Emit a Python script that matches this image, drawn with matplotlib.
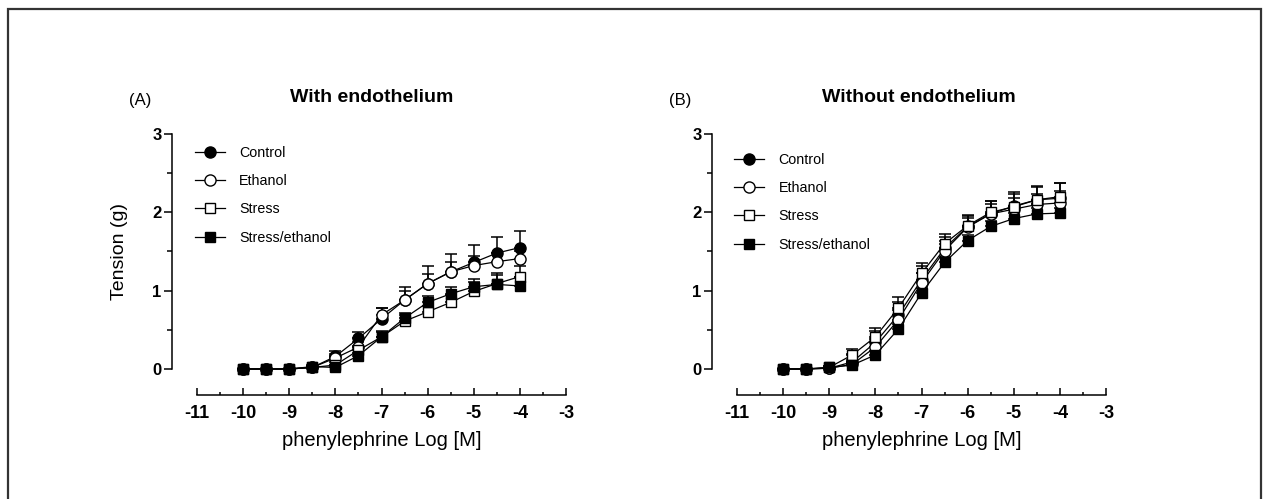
import matplotlib
matplotlib.use("Agg")
import matplotlib.pyplot as plt
from matplotlib.patches import Rectangle
from matplotlib.lines import Line2D
import numpy as np

# ---------------- data ----------------
log_conc = [-10, -9.5, -9, -8.5, -8, -7.5, -7, -6.5, -6, -5.5, -5, -4.5, -4]
groups = ["Control", "Ethanol", "Stress", "Stress/ethanol"]

# Panel A: with endothelium (mean, SEM)
a_control = [0, 0, 0, 0.02, 0.16, 0.39, 0.64, 0.88, 1.09, 1.24, 1.36, 1.48, 1.55]
a_control_sem = [0, 0, 0, 0.02, 0.07, 0.08, 0.14, 0.17, 0.22, 0.23, 0.22, 0.21, 0.21]
a_ethanol = [0, 0, 0, 0.02, 0.14, 0.28, 0.69, 0.88, 1.09, 1.24, 1.32, 1.37, 1.41]
a_ethanol_sem = [0, 0, 0, 0.02, 0.05, 0.06, 0.09, 0.12, 0.12, 0.12, 0.12, 0.11, 0.1]
a_stress = [0, 0, 0, 0.02, 0.05, 0.24, 0.41, 0.61, 0.73, 0.85, 0.99, 1.09, 1.18]
a_stress_sem = [0, 0, 0, 0.02, 0.04, 0.05, 0.07, 0.08, 0.08, 0.09, 0.12, 0.14, 0.14]
a_strEth = [0, 0, 0, 0.03, 0.02, 0.17, 0.41, 0.65, 0.85, 0.96, 1.05, 1.08, 1.06]
a_strEth_sem = [0, 0, 0, 0.02, 0.03, 0.04, 0.06, 0.07, 0.08, 0.09, 0.1, 0.12, 0.12]

# Panel B: without endothelium (mean, SEM)
b_control = [0, 0, 0.01, 0.09, 0.34, 0.69, 1.14, 1.54, 1.82, 1.98, 2.08, 2.16, 2.18]
b_control_sem = [0, 0, 0.02, 0.1, 0.14, 0.17, 0.17, 0.14, 0.14, 0.16, 0.18, 0.18, 0.2]
b_ethanol = [0, 0, 0.01, 0.06, 0.28, 0.63, 1.10, 1.51, 1.81, 1.98, 2.04, 2.10, 2.12]
b_ethanol_sem = [0, 0, 0.02, 0.06, 0.1, 0.12, 0.13, 0.12, 0.12, 0.12, 0.14, 0.14, 0.15]
b_stress = [0, 0, 0.02, 0.18, 0.41, 0.78, 1.22, 1.60, 1.83, 2.00, 2.07, 2.16, 2.20]
b_stress_sem = [0, 0, 0.02, 0.08, 0.11, 0.14, 0.13, 0.12, 0.12, 0.14, 0.16, 0.16, 0.17]
b_strEth = [0, 0, 0.02, 0.05, 0.18, 0.51, 0.97, 1.36, 1.64, 1.82, 1.92, 1.98, 1.99]
b_strEth_sem = [0, 0, 0.02, 0.04, 0.05, 0.06, 0.07, 0.07, 0.07, 0.07, 0.07, 0.07, 0.07]

x_ticks = [-11, -10, -9, -8, -7, -6, -5, -4, -3]
y_ticks = [0, 1, 2, 3]

panel_titles = ["With endothelium", "Without endothelium"]
panel_letters = ["(A)", "(B)"]
x_label = "phenylephrine Log [M]"
y_label = "Tension (g)"

# ---------------- style ----------------
W, H = 1267, 499
fig = plt.figure(figsize=(W / 100, H / 100), dpi=100)

regular = ["Liberation Sans", "DejaVu Sans"]

styles = [
    dict(marker="o", mfc="black", ms=8.0),
    dict(marker="o", mfc="white", ms=8.0),
    dict(marker="s", mfc="white", ms=7.3),
    dict(marker="s", mfc="black", ms=7.3),
]

def px_axes(left, right, top, bottom):
    return fig.add_axes([left / W, (H - bottom) / H, (right - left) / W, (bottom - top) / H])

panels = [
    dict(ax=px_axes(172, 566, 134, 395),
         series=[(a_control, a_control_sem), (a_ethanol, a_ethanol_sem),
                 (a_stress, a_stress_sem), (a_strEth, a_strEth_sem)],
         leg_anchor=(0.058, 0.955), letter_x=140, title_x=372, ylabel=True),
    dict(ax=px_axes(712, 1106, 134, 395),
         series=[(b_control, b_control_sem), (b_ethanol, b_ethanol_sem),
                 (b_stress, b_stress_sem), (b_strEth, b_strEth_sem)],
         leg_anchor=(0.056, 0.928), letter_x=680, title_x=919, ylabel=False),
]

for i, p in enumerate(panels):
    ax = p["ax"]
    x0 = -11 - 25 / 46.1
    ax.set_xlim(x0, -3)
    ax.set_ylim(-26 / 78.3, 3)
    for k, (mean, sem) in enumerate(p["series"]):
        st = styles[k]
        lower = np.zeros(len(sem))
        ax.errorbar(log_conc, mean, yerr=[lower, sem], fmt="none", ecolor="black",
                    elinewidth=1.1, capsize=4.5, capthick=1.1, zorder=2)
        ax.plot(log_conc, mean, color="black", lw=0.9, marker=st["marker"],
                mfc=st["mfc"], mec="black", mew=1.0, ms=st["ms"], zorder=3 + k,
                label=groups[k])

    for s in ["top", "right"]:
        ax.spines[s].set_visible(False)
    ax.spines["left"].set_bounds(0, 3)
    ax.spines["bottom"].set_bounds(-11, -3)
    ax.spines["left"].set_linewidth(1.1)
    ax.spines["bottom"].set_linewidth(1.1)

    ax.set_yticks(y_ticks)
    ax.set_yticks([0.5, 1.5, 2.5], minor=True)
    ax.set_xticks(x_ticks)
    ax.set_xticks(np.arange(-10.5, -3, 1.0), minor=True)
    ax.set_xticklabels([str(v) for v in x_ticks])
    ax.set_yticklabels([str(v) for v in y_ticks])
    ax.tick_params(axis="y", which="major", direction="out", length=5.5, width=1.1, pad=2)
    ax.tick_params(axis="y", which="minor", direction="out", length=3.5, width=1.1)
    ax.tick_params(axis="x", which="major", direction="in", length=5, width=1.1, pad=7)
    ax.tick_params(axis="x", which="minor", direction="in", length=2.5, width=1.1)
    for lab in ax.get_xticklabels():
        lab.set_fontfamily(regular)
        lab.set_fontweight("bold")
        lab.set_fontsize(13)
    for lab in ax.get_yticklabels():
        lab.set_fontfamily(regular)
        lab.set_fontweight("bold")
        lab.set_fontsize(12)

    ax.set_xlabel(x_label, fontsize=14.5, family=regular)
    ax.xaxis.set_label_coords((381.5 - 172) / 394, -(431 - 395) / 261)
    if p["ylabel"]:
        ax.set_ylabel(y_label, fontsize=14, family=regular)
        ax.yaxis.set_label_coords(-(172 - 120) / 394, (395 - 252) / 261)
        ax.yaxis.label.set_verticalalignment("center")

    handles = [Line2D([], [], color="black", lw=0.9, marker=styles[k]["marker"],
                      mfc=styles[k]["mfc"], mec="black", mew=1.0, ms=styles[k]["ms"])
               for k in range(4)]
    ax.legend(handles, groups, loc="upper left", bbox_to_anchor=p["leg_anchor"],
              frameon=False, borderpad=0, borderaxespad=0, handlelength=2.1,
              handletextpad=1.0, labelspacing=1.0,
              prop=dict(family=regular, size=10.3))

    fig.text(p["title_x"] / W, 1 - 97 / H, panel_titles[i], ha="center", va="center",
             fontsize=14, fontweight="bold", family=regular)
    fig.text(p["letter_x"] / W, 1 - 101 / H, panel_letters[i], ha="center", va="center",
             fontsize=12, family=regular)

# outer border
fig.patches.append(Rectangle((7.5 / W, -0.1), (1261 - 7.5) / W, 1.1 - 8.5 / H,
                             transform=fig.transFigure, fill=False,
                             edgecolor="#333333", lw=1.6))

fig.savefig("out.png", dpi=100)
